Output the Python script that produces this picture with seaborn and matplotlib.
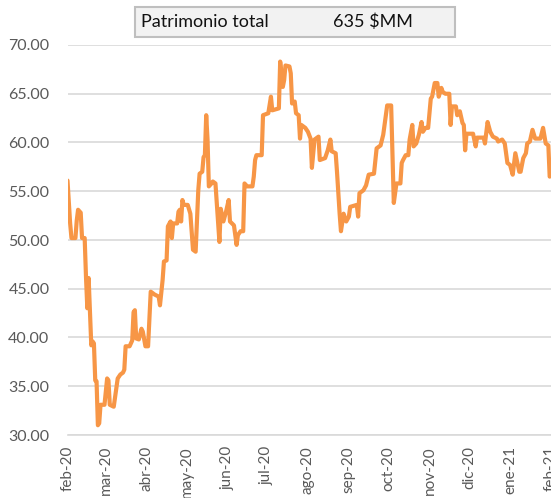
import matplotlib
matplotlib.use('Agg')
import matplotlib.pyplot as plt
import matplotlib.patches as mpatches
import seaborn as sns
import pandas as pd

# valores
fechas = [
    "2020-02-01", "2020-02-03", "2020-02-04", "2020-02-07", "2020-02-08", "2020-02-09",
    "2020-02-11", "2020-02-12", "2020-02-14", "2020-02-15", "2020-02-16", "2020-02-17",
    "2020-02-19", "2020-02-20", "2020-02-21", "2020-02-22", "2020-02-23", "2020-02-24",
    "2020-02-25", "2020-02-26", "2020-02-29", "2020-03-02", "2020-03-03", "2020-03-04",
    "2020-03-07", "2020-03-10", "2020-03-12", "2020-03-14", "2020-03-15", "2020-03-16",
    "2020-03-19", "2020-03-21", "2020-03-22", "2020-03-23", "2020-03-24", "2020-03-26",
    "2020-03-28", "2020-03-29", "2020-03-31", "2020-04-02", "2020-04-04", "2020-04-07",
    "2020-04-10", "2020-04-11", "2020-04-13", "2020-04-14", "2020-04-16", "2020-04-17",
    "2020-04-19", "2020-04-20", "2020-04-21", "2020-04-24", "2020-04-25", "2020-04-26",
    "2020-04-27", "2020-04-28", "2020-04-29", "2020-05-02", "2020-05-04", "2020-05-06",
    "2020-05-08", "2020-05-10", "2020-05-11", "2020-05-13", "2020-05-14", "2020-05-15",
    "2020-05-16", "2020-05-17", "2020-05-18", "2020-05-20", "2020-05-21", "2020-05-23",
    "2020-05-26", "2020-05-27", "2020-05-29", "2020-05-31", "2020-06-02", "2020-06-03",
    "2020-06-06", "2020-06-08", "2020-06-09", "2020-06-11", "2020-06-13", "2020-06-14",
    "2020-06-16", "2020-06-20", "2020-06-21", "2020-06-22", "2020-06-23", "2020-06-27",
    "2020-06-28", "2020-07-02", "2020-07-04", "2020-07-05", "2020-07-10", "2020-07-11",
    "2020-07-13", "2020-07-14", "2020-07-15", "2020-07-18", "2020-07-19", "2020-07-20",
    "2020-07-22", "2020-07-23", "2020-07-25", "2020-07-26", "2020-07-27", "2020-07-30",
    "2020-08-01", "2020-08-03", "2020-08-04", "2020-08-06", "2020-08-09", "2020-08-10",
    "2020-08-14", "2020-08-16", "2020-08-18", "2020-08-19", "2020-08-22", "2020-08-23",
    "2020-08-25", "2020-08-26", "2020-08-28", "2020-08-30", "2020-09-01", "2020-09-02",
    "2020-09-07", "2020-09-08", "2020-09-09", "2020-09-12", "2020-09-14", "2020-09-16",
    "2020-09-20", "2020-09-22", "2020-09-25", "2020-09-27", "2020-09-30", "2020-10-03",
    "2020-10-05", "2020-10-07", "2020-10-10", "2020-10-11", "2020-10-12", "2020-10-14",
    "2020-10-16", "2020-10-17", "2020-10-19", "2020-10-20", "2020-10-22", "2020-10-24",
    "2020-10-26", "2020-10-27", "2020-10-29", "2020-10-31", "2020-11-02", "2020-11-03",
    "2020-11-05", "2020-11-07", "2020-11-08", "2020-11-10", "2020-11-11", "2020-11-13",
    "2020-11-16", "2020-11-17", "2020-11-18", "2020-11-21", "2020-11-22", "2020-11-24",
    "2020-11-26", "2020-11-27", "2020-11-28", "2020-11-29", "2020-12-04", "2020-12-06",
    "2020-12-07", "2020-12-12", "2020-12-13", "2020-12-15", "2020-12-17", "2020-12-19",
    "2020-12-22", "2020-12-23", "2020-12-26", "2020-12-28", "2020-12-30", "2021-01-01",
    "2021-01-03", "2021-01-05", "2021-01-08", "2021-01-09", "2021-01-11", "2021-01-13",
    "2021-01-14", "2021-01-16", "2021-01-18", "2021-01-20", "2021-01-24", "2021-01-26",
    "2021-01-28", "2021-01-30", "2021-01-31",
]
valores = [
    56.1, 51.7, 50.2, 50.2, 52.0, 53.1,
    52.8, 50.2, 50.2, 46.2, 43.0, 46.1,
    39.2, 39.6, 39.4, 35.6, 35.5, 31.0,
    31.2, 33.1, 33.1, 35.8, 35.6, 33.1,
    32.9, 35.8, 36.2, 36.4, 36.7, 39.1,
    39.1, 39.7, 42.6, 42.8, 39.9, 39.8,
    40.9, 40.6, 39.1, 39.1, 44.7, 44.4,
    44.2, 43.3, 45.9, 47.8, 47.9, 51.4,
    51.9, 50.2, 51.7, 51.7, 52.9, 53.1,
    51.9, 54.1, 53.6, 53.6, 52.7, 49.0,
    48.8, 55.1, 56.8, 57.0, 58.5, 58.7,
    62.8, 60.3, 55.5, 55.8, 56.0, 55.8,
    49.8, 53.2, 51.9, 52.9, 54.1, 51.9,
    51.5, 49.5, 50.5, 50.9, 50.9, 55.8,
    55.5, 55.5, 56.5, 58.2, 58.7, 58.7,
    62.8, 63.0, 64.7, 63.3, 63.5, 68.3,
    65.7, 66.4, 67.9, 67.8, 67.1, 64.0,
    64.2, 63.0, 62.8, 60.4, 61.8, 61.5,
    61.1, 60.4, 57.4, 60.3, 60.6, 58.2,
    58.4, 59.2, 60.3, 59.1, 58.9, 57.0,
    52.7, 50.9, 52.7, 51.9, 52.4, 53.4,
    53.6, 52.4, 54.8, 55.1, 55.6, 56.7,
    56.8, 59.4, 59.7, 60.8, 63.8, 63.8,
    53.8, 55.8, 55.8, 57.9, 58.2, 58.7,
    58.7, 60.3, 61.8, 59.6, 59.9, 60.8,
    62.1, 61.1, 61.5, 61.5, 64.5, 64.7,
    66.1, 66.1, 64.7, 65.6, 65.2, 65.0,
    65.0, 61.8, 63.7, 63.7, 62.8, 63.2,
    62.0, 61.8, 59.2, 60.9, 60.9, 59.6,
    60.5, 60.5, 59.9, 62.1, 61.1, 60.6,
    60.4, 60.1, 60.3, 59.9, 57.9, 57.7,
    56.7, 58.9, 57.0, 57.0, 58.4, 58.9,
    59.9, 60.1, 61.3, 60.4, 60.4, 61.5,
    59.9, 59.7, 56.5,
]

meses = pd.date_range("2020-02-01", "2021-02-01", freq="MS")
etiquetas_meses = ["feb-20", "mar-20", "abr-20", "may-20", "jun-20", "jul-20", "ago-20",
                   "sep-20", "oct-20", "nov-20", "dic-20", "ene-21", "feb-21"]
yticks = [30, 35, 40, 45, 50, 55, 60, 65, 70]

titulo = "Patrimonio total"
patrimonio = "635 $MM"

df = pd.DataFrame({"fecha": pd.to_datetime(fechas), "valor": valores})

sns.set_style("white")
plt.rcParams['font.family'] = ['Lato', 'DejaVu Sans']

fig = plt.figure(figsize=(5.51, 4.98), dpi=100)
ax = fig.add_axes([67.5 / 551, 1 - 435 / 498, 1 - 67.5 / 551, 390 / 498])

sns.lineplot(data=df, x="fecha", y="valor", ax=ax, color="#F79646", linewidth=3.0)
for ln in ax.get_lines():
    ln.set_solid_joinstyle('round')
    ln.set_solid_capstyle('round')

ax.set_xlim(meses[0], meses[-1])
ax.set_ylim(30, 70)
ax.set_yticks(yticks)
ax.set_yticklabels([f"{v:.2f}" for v in yticks], fontsize=11.5, color="#595959")
ax.set_xticks(meses)
ax.set_xticklabels(etiquetas_meses, rotation=90, fontsize=11, color="#595959")
ax.tick_params(axis='x', direction='out', length=5, width=1, color="#d9d9d9", pad=3)
ax.tick_params(axis='y', length=0, pad=13)
ax.grid(axis='y', color="#d9d9d9", linewidth=1.2)
ax.set_axisbelow(True)
for s in ['top', 'right', 'left']:
    ax.spines[s].set_visible(False)
ax.spines['bottom'].set_color("#d9d9d9")
ax.spines['bottom'].set_linewidth(1.2)
ax.set_xlabel("")
ax.set_ylabel("")

# recuadro del título
caja = mpatches.Rectangle((135 / 551, 1 - 37 / 498), 320 / 551, 30 / 498,
                          transform=fig.transFigure, facecolor="#f2f2f2",
                          edgecolor="#bfbfbf", linewidth=1.5)
fig.patches.append(caja)
fig.text(141 / 551, 1 - 22 / 498, titulo, fontsize=13, va='center', ha='left', color="#111111")
fig.text(333 / 551, 1 - 22 / 498, patrimonio, fontsize=13, va='center', ha='left', color="#111111")

plt.savefig("out.png", dpi=100, facecolor='white')
plt.close()
